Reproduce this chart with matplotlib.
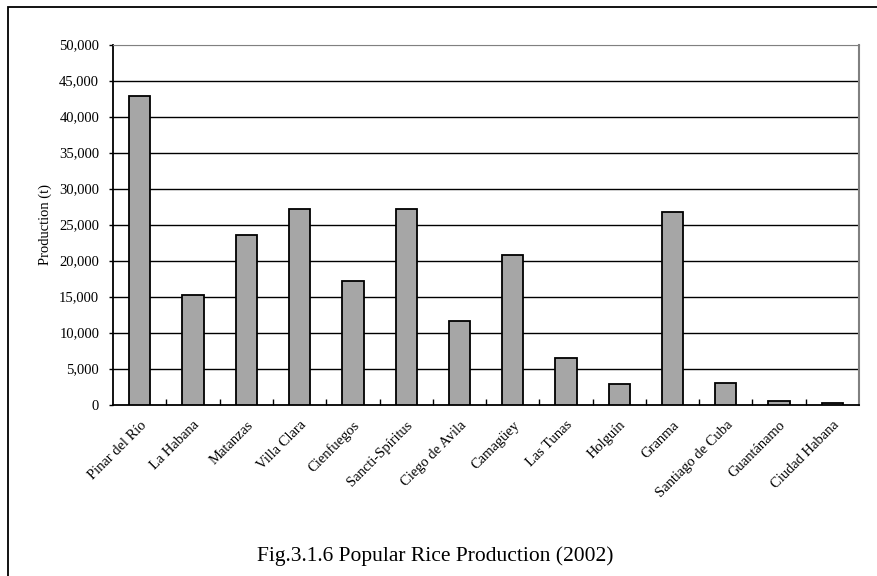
import matplotlib.pyplot as plt
from matplotlib.patches import Rectangle
from matplotlib.ticker import FuncFormatter

provinces = ['Pinar del Río', 'La Habana', 'Matanzas', 'Villa Clara', 'Cienfuegos',
             'Sancti-Spíritus', 'Ciego de Avila', 'Camagüey', 'Las Tunas', 'Holguín',
             'Granma', 'Santiago de Cuba', 'Guantánamo', 'Ciudad Habana']
production = [42900, 15250, 23500, 27100, 17150, 27100, 11600, 20700,
              6500, 2800, 26700, 2950, 450, 200]
y_ticks = list(range(0, 50001, 5000))

plt.rcParams['font.family'] = ['Liberation Serif', 'DejaVu Serif']

fig = plt.figure(figsize=(8.77, 5.76), dpi=100)
ax = fig.add_axes([0.129, 0.2977, 0.8505, 0.625])

# outer frame (only left/top visible in the original crop)
fig.patches.append(Rectangle((7.5 / 877, -0.1), 2, 1.1 - 7 / 576, transform=fig.transFigure,
                             fill=False, edgecolor='black', linewidth=1.3))

x = list(range(len(provinces)))
ax.bar(x, production, width=0.4, color='#a6a6a6', edgecolor='black', linewidth=1.3, zorder=3)

ax.set_xlim(-0.5, len(provinces) - 0.5)
ax.set_ylim(0, 50000)
ax.set_yticks(y_ticks)
ax.yaxis.set_major_formatter(FuncFormatter(lambda v, p: f'{int(v):,}'))
for v in y_ticks[1:-1]:
    ax.axhline(v, color='black', linewidth=1, zorder=1)
ax.axhline(50000, color='#808080', linewidth=1.5, zorder=1)

ax.set_xticks([i + 0.5 for i in x[:-1]], minor=True)
ax.set_xticks(x)
ax.set_xticklabels(provinces, rotation=45, ha='right', rotation_mode='anchor', fontsize=10.5)
ax.tick_params(axis='x', which='major', length=0, pad=10)
ax.tick_params(axis='x', which='minor', direction='in', length=4, width=1)
ax.tick_params(axis='y', direction='out', length=3, width=1, labelsize=10.5, pad=7)

ax.spines['left'].set_linewidth(1.3)
ax.spines['bottom'].set_linewidth(1.3)
ax.spines['top'].set_color('#808080')
ax.spines['right'].set_color('#808080')
ax.spines['right'].set_linewidth(1.5)

ax.set_ylabel('Production (t)', fontsize=10.5, labelpad=5)

fig.text(0.496, 0.035, 'Fig.3.1.6 Popular Rice Production (2002)', ha='center', va='center',
         fontsize=15.5)

fig.savefig('out.png', dpi=100)
